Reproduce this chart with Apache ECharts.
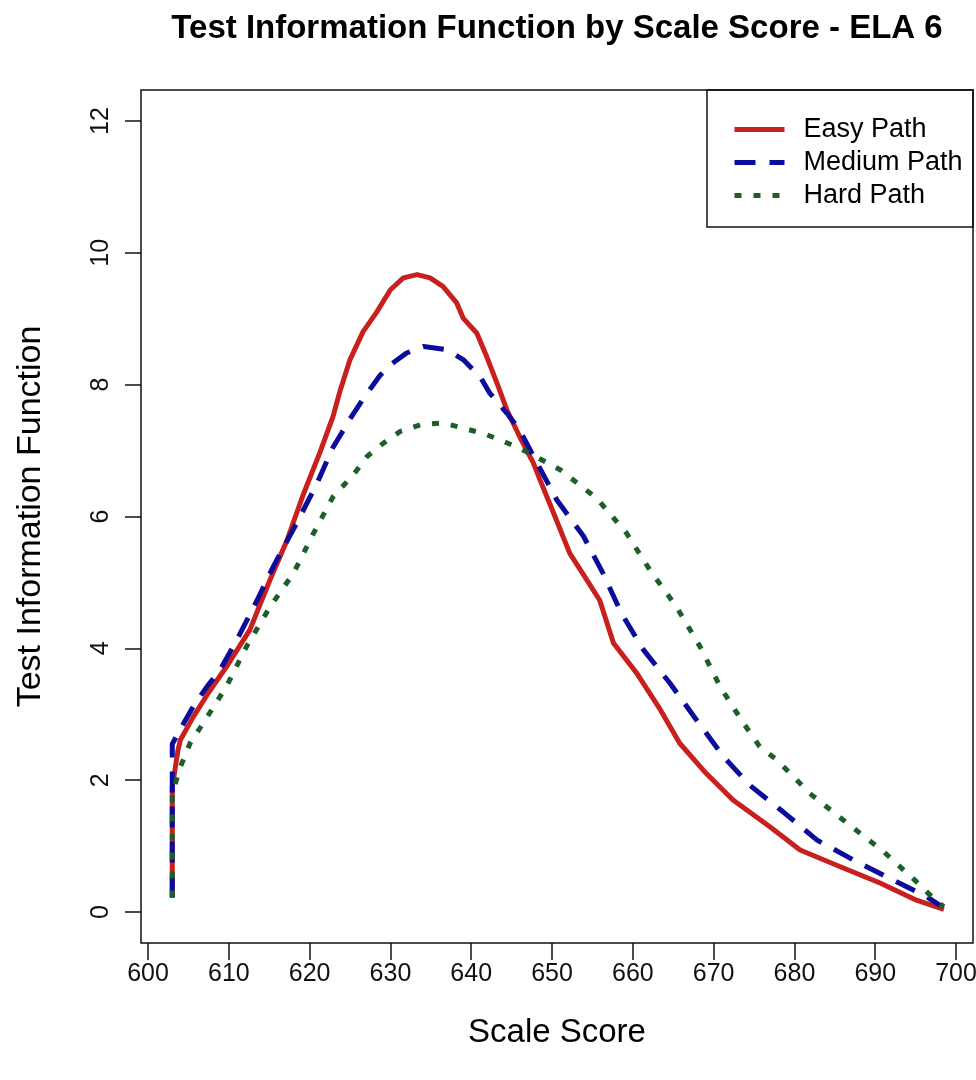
<!DOCTYPE html>
<html>
<head>
<meta charset="utf-8">
<script src="https://cdn.jsdelivr.net/npm/echarts@6/dist/echarts.min.js"></script>
<style>
html,body{margin:0;padding:0;background:#fff;}
#chart{width:976px;height:1080px;}
</style>
</head>
<body>
<div id="chart"></div>
<script>
// ---- data ----
const titleText = 'Test Information Function by Scale Score - ELA 6';
const xTitle = 'Scale Score';
const yTitle = 'Test Information Function';
const seriesNames = ['Easy Path', 'Medium Path', 'Hard Path'];
const xTicks = [600, 610, 620, 630, 640, 650, 660, 670, 680, 690, 700];
const yTicks = [0, 2, 4, 6, 8, 10, 12];

const easyX = [603, 603, 603.7, 604, 605.6, 607.5, 609.7, 612.6, 615.1, 617.2, 619.2, 621.3, 622.9, 623.8, 625, 626.6, 628.3, 630, 631.6, 633.3, 634.9, 636.5, 638.2, 639, 640.7, 641.9, 643.2, 644.4, 646, 647.7, 648.5, 650.2, 652.2, 654.3, 655.9, 657.6, 660.5, 663.4, 665.8, 669.1, 672.4, 677, 680.7, 685.6, 690.6, 695.1, 698.5];
const easyY = [0.22, 1.9, 2.45, 2.61, 2.96, 3.33, 3.72, 4.28, 5.04, 5.64, 6.33, 6.98, 7.52, 7.92, 8.38, 8.8, 9.1, 9.44, 9.62, 9.67, 9.62, 9.49, 9.24, 9.01, 8.78, 8.43, 8.02, 7.62, 7.21, 6.81, 6.56, 6.05, 5.44, 5.04, 4.73, 4.08, 3.62, 3.07, 2.56, 2.1, 1.7, 1.29, 0.94, 0.69, 0.44, 0.18, 0.04];

const mediumX = [603, 603, 604.4, 605.6, 607.3, 608.9, 611, 613.5, 615.5, 618.4, 620.9, 622.9, 625, 626.6, 628.7, 630, 632, 634.1, 637, 639, 641.1, 642.3, 644.4, 646, 647.5, 650.6, 653.9, 656.3, 658.6, 661.3, 664.6, 667.9, 671.2, 674.5, 678.6, 682.8, 687.3, 691.8, 696.4, 698];
const mediumY = [0.22, 2.55, 2.86, 3.12, 3.42, 3.67, 4.13, 4.73, 5.24, 5.9, 6.5, 7.05, 7.48, 7.78, 8.14, 8.3, 8.48, 8.58, 8.53, 8.38, 8.12, 7.87, 7.57, 7.31, 6.96, 6.25, 5.7, 5.14, 4.53, 3.98, 3.47, 2.91, 2.36, 1.92, 1.52, 1.09, 0.79, 0.51, 0.23, 0.1];

const hardX = [603, 603, 604, 605.2, 606.8, 609.7, 612.2, 615.1, 618, 620.5, 622.9, 625.4, 627.1, 629.1, 631.2, 633.7, 636.5, 639, 641.5, 644, 646.4, 651, 655.5, 659.2, 662.1, 665.4, 668.3, 670.8, 673.5, 675.7, 677.8, 681.9, 686.5, 691, 695.1, 697.6, 698.5];
const hardY = [0.22, 1.8, 2.2, 2.56, 2.86, 3.42, 4.03, 4.63, 5.14, 5.75, 6.3, 6.63, 6.91, 7.11, 7.29, 7.39, 7.42, 7.34, 7.26, 7.14, 7.01, 6.71, 6.28, 5.75, 5.19, 4.63, 4.03, 3.42, 2.9, 2.51, 2.31, 1.8, 1.35, 0.92, 0.46, 0.16, 0.08];

// ---- chart ----
const FONT = '"Liberation Sans", Arial, sans-serif';
const pair = (xs, ys) => xs.map((x, i) => [x, ys[i]]);
const colors = ['#c8201e', '#0c0c9c', '#1d5e2a'];
const dashes = ['solid', [21, 14], [7, 12]];
const datas = [pair(easyX, easyY), pair(mediumX, mediumY), pair(hardX, hardY)];

const legendTops = [126, 159, 192];
const legends = seriesNames.map((n, i) => ({
  data: [n],
  left: 732,
  top: legendTops[i] - 10,
  padding: 0,
  itemWidth: 50,
  itemHeight: 20,
  selectedMode: false,
  itemStyle: { opacity: 0 },
  lineStyle: { width: 5 },
  textStyle: { fontFamily: FONT, fontSize: 27, color: '#000', lineHeight: 20, padding: [0, 0, 0, 14] }
}));

const chart = echarts.init(document.getElementById('chart'), null, { renderer: 'canvas' });
chart.setOption({
  animation: false,
  backgroundColor: '#fff',
  title: {
    text: titleText,
    left: 557,
    top: 12,
    padding: 0,
    textAlign: 'center',
    textStyle: { fontFamily: FONT, fontSize: 33, fontWeight: 'bold', color: '#000' }
  },
  legend: legends,
  grid: {
    left: 141, right: 3, top: 90, bottom: 137,
    containLabel: false,
    outerBoundsMode: 'none',
    show: true, borderColor: '#111', borderWidth: 1.5, backgroundColor: 'transparent'
  },
  xAxis: {
    type: 'value',
    min: 599.13, max: 702.1,
    name: xTitle,
    nameLocation: 'middle',
    nameGap: 73,
    nameTextStyle: { fontFamily: FONT, fontSize: 33, color: '#000' },
    axisLine: { show: false, onZero: false },
    splitLine: { show: false },
    axisTick: { show: true, inside: false, length: 17, customValues: xTicks, lineStyle: { color: '#111', width: 1.5 } },
    axisLabel: { customValues: xTicks, margin: 19, fontFamily: FONT, fontSize: 25, color: '#111', hideOverlap: false }
  },
  yAxis: {
    type: 'value',
    min: -0.47, max: 12.47,
    name: yTitle,
    nameLocation: 'middle',
    nameGap: 93,
    nameRotate: 90,
    nameTextStyle: { fontFamily: FONT, fontSize: 34, color: '#000' },
    axisLine: { show: false, onZero: false },
    splitLine: { show: false },
    axisTick: { show: true, inside: false, length: 16, customValues: yTicks, lineStyle: { color: '#111', width: 1.5 } },
    axisLabel: { customValues: yTicks, rotate: 90, margin: 27, fontFamily: FONT, fontSize: 25, color: '#111' }
  },
  graphic: [{
    type: 'rect',
    shape: { x: 707, y: 90, width: 266, height: 137 },
    style: { fill: 'transparent', stroke: '#111', lineWidth: 1.5 },
    z: 10
  }],
  series: seriesNames.map((n, i) => ({
    name: n,
    type: 'line',
    data: datas[i],
    showSymbol: false,
    symbol: 'none',
    smooth: false,
    color: colors[i],
    lineStyle: { color: colors[i], width: 5, type: dashes[i], cap: 'butt', join: 'round' },
    z: 2 + i
  }))
});
</script>
</body>
</html>
